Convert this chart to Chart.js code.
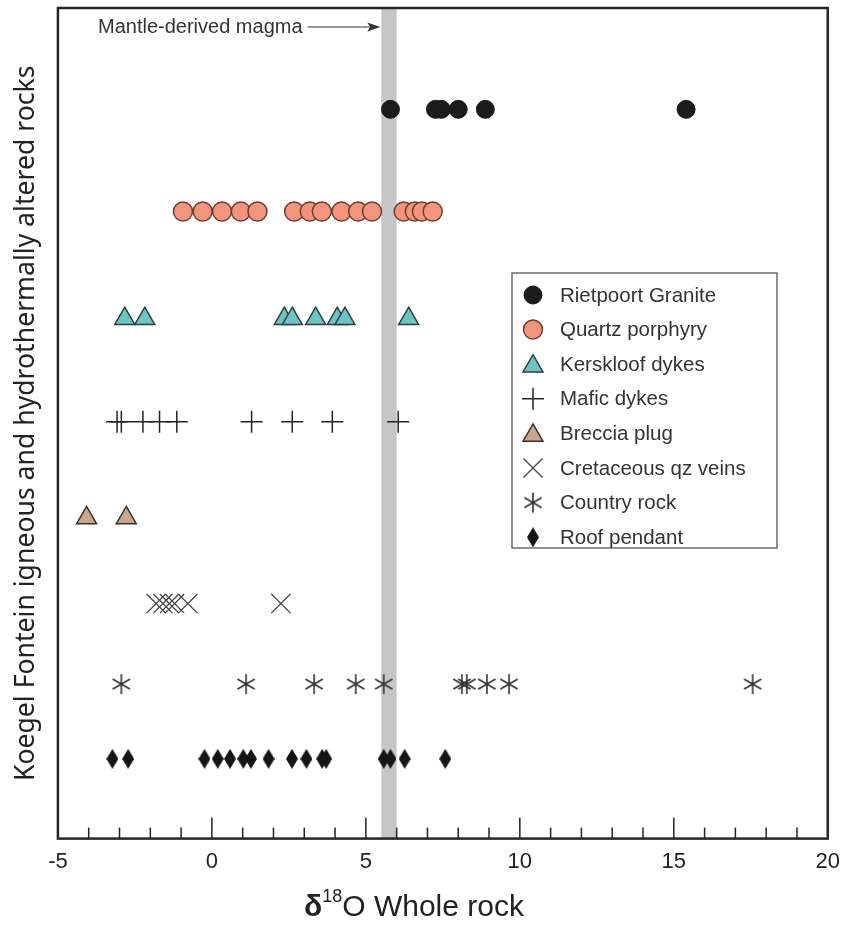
<!DOCTYPE html>
<html>
<head>
<meta charset="utf-8">
<script src="https://cdn.jsdelivr.net/npm/chart.js@4.4.1/dist/chart.umd.min.js"></script>
<style>
  body { margin: 0; background: #ffffff; }
  canvas { display: block; }
</style>
</head>
<body>
<canvas id="plot" width="850" height="929"></canvas>
<script>
// Series names (legend order)
const seriesNames = [
    "Rietpoort Granite",
    "Quartz porphyry",
    "Kerskloof dykes",
    "Mafic dykes",
    "Breccia plug",
    "Cretaceous qz veins",
    "Country rock",
    "Roof pendant"
];

// d18O whole rock values
const rietpoort = [5.8, 7.26, 7.45, 8.0, 8.88, 15.4];
const quartzPorphyry = [-0.94, -0.3, 0.33, 0.94, 1.48, 2.67, 3.18, 3.57, 4.21, 4.75, 5.2, 6.23, 6.59, 6.82, 7.17];
const kerskloof = [-2.83, -2.18, 2.35, 2.61, 3.37, 4.07, 4.32, 6.39];
const mafic = [-3.08, -2.94, -2.24, -1.7, -1.14, 1.29, 2.61, 3.91, 6.05];
const breccia = [-4.07, -2.78];
const cretaceous = [-1.81, -1.59, -1.38, -1.21, -0.78, 2.24];
const countryRock = [-2.94, 1.11, 3.32, 4.67, 5.58, 8.12, 8.28, 8.93, 9.65, 17.56];
const roofPendant = [-3.23, -2.72, -0.24, 0.19, 0.59, 1.02, 1.27, 1.84, 2.6, 3.07, 3.58, 3.71, 5.58, 5.8, 6.26, 7.58];

// vertical level of each rock group (arbitrary 0-100 scale)
const rowLevels = [87.8, 75.5, 62.6, 50.2, 38.6, 28.3, 18.6, 9.6];

// x axis
const xMin = -5;
const xMax = 20;
const xStep = 5;

// mantle-derived magma band
const mantleBand = [5.5, 6.0];

// Custom marker: 6-armed asterisk
function makeAsterisk() {
    const c = document.createElement("canvas");
    c.width = 22;
    c.height = 22;
    const g = c.getContext("2d");
    g.strokeStyle = "#333";
    g.lineWidth = 1.6;
    g.beginPath();
    for (let k = 0; k < 3; k++) {
        const a = Math.PI / 2 + k * Math.PI / 3;
        g.moveTo(11 + 10 * Math.cos(a), 11 - 10 * Math.sin(a));
        g.lineTo(11 - 10 * Math.cos(a), 11 + 10 * Math.sin(a));
    }
    g.stroke();
    return c;
}

// Custom marker: tall diamond
function makeDiamond() {
    const c = document.createElement("canvas");
    c.width = 12;
    c.height = 20;
    const g = c.getContext("2d");
    g.fillStyle = "#151515";
    g.beginPath();
    g.moveTo(6, 0);
    g.lineTo(12, 10);
    g.lineTo(6, 20);
    g.lineTo(0, 10);
    g.closePath();
    g.fill();
    return c;
}

const seriesValues = [rietpoort, quartzPorphyry, kerskloof, mafic, breccia, cretaceous, countryRock, roofPendant];

const seriesStyles = [
    { pointStyle: "circle", radius: 9, bg: "#1b1b1b", border: "#1b1b1b", width: 1 },
    { pointStyle: "circle", radius: 9.5, bg: "#f2957c", border: "#6b4032", width: 1.5 },
    { pointStyle: "triangle", radius: 11.5, bg: "#6dc4c2", border: "#2c3f40", width: 1.5 },
    { pointStyle: "cross", radius: 11, bg: "#222", border: "#222", width: 1.5 },
    { pointStyle: "triangle", radius: 11.5, bg: "#c9a68e", border: "#3a2f29", width: 1.5 },
    { pointStyle: "crossRot", radius: 13.5, bg: "#444", border: "#444", width: 1.3 },
    { pointStyle: makeAsterisk(), radius: 10, bg: "#333", border: "#333", width: 1.5 },
    { pointStyle: makeDiamond(), radius: 10, bg: "#151515", border: "#151515", width: 1 }
];

// Prepare datasets
let datasets = [];
for (let i = 0; i < seriesNames.length; i++) {
    const s = seriesStyles[i];
    datasets.push({
        label: seriesNames[i],
        data: seriesValues[i].map((v) => ({ x: v, y: rowLevels[i] })),
        pointStyle: s.pointStyle,
        pointRadius: s.radius,
        pointBackgroundColor: s.bg,
        pointBorderColor: s.border,
        pointBorderWidth: s.width,
        backgroundColor: s.bg,
        borderColor: s.border,
        showLine: false
    });
}

// Grey band + annotation drawn under the points
const bandPlugin = {
    id: "band",
    beforeDatasetsDraw(chart) {
        const ctx = chart.ctx;
        const area = chart.chartArea;
        const x = chart.scales.x;
        const x0 = x.getPixelForValue(mantleBand[0]);
        const x1 = x.getPixelForValue(mantleBand[1]);
        ctx.save();
        ctx.fillStyle = "#c6c6c6";
        ctx.fillRect(x0, area.top, x1 - x0, area.bottom - area.top);

        // annotation
        const ty = area.top + 19;
        ctx.fillStyle = "#333";
        ctx.font = "20px 'Liberation Sans', Arial, sans-serif";
        ctx.textBaseline = "middle";
        ctx.textAlign = "left";
        const label = "Mantle-derived magma";
        ctx.fillText(label, 98, ty);
        const start = 98 + ctx.measureText(label).width + 5;
        ctx.strokeStyle = "#333";
        ctx.lineWidth = 1.2;
        ctx.beginPath();
        ctx.moveTo(start, ty);
        ctx.lineTo(x0 - 8, ty);
        ctx.stroke();
        ctx.beginPath();
        ctx.moveTo(x0 - 1, ty);
        ctx.lineTo(x0 - 14, ty - 4.5);
        ctx.lineTo(x0 - 11, ty);
        ctx.lineTo(x0 - 14, ty + 4.5);
        ctx.closePath();
        ctx.fill();
        ctx.restore();
    }
};

// Frame, inward ticks, x title and legend box
const framePlugin = {
    id: "frame",
    afterDraw(chart) {
        const ctx = chart.ctx;
        const area = chart.chartArea;
        const x = chart.scales.x;
        ctx.save();

        // inward ticks on bottom axis
        ctx.strokeStyle = "#222";
        ctx.lineWidth = 1.5;
        for (let v = xMin + 1; v < xMax; v++) {
            const px = x.getPixelForValue(v);
            const len = v % 5 === 0 ? 21 : 11;
            ctx.beginPath();
            ctx.moveTo(px, area.bottom);
            ctx.lineTo(px, area.bottom - len);
            ctx.stroke();
        }

        // frame
        ctx.lineWidth = 2.5;
        ctx.strokeStyle = "#262626";
        ctx.strokeRect(area.left, area.top, area.right - area.left, area.bottom - area.top);

        // x title: delta 18 O Whole rock
        const ty = 906;
        ctx.fillStyle = "#222";
        ctx.textBaseline = "alphabetic";
        ctx.textAlign = "left";
        const big = "30px 'Liberation Sans', Arial, sans-serif";
        const bold = "bold 30px 'Liberation Sans', Arial, sans-serif";
        const small = "18px 'Liberation Sans', Arial, sans-serif";
        ctx.font = bold;
        const wD = ctx.measureText("δ").width;
        ctx.font = small;
        const wS = ctx.measureText("18").width;
        ctx.font = big;
        const wR = ctx.measureText("O Whole rock").width;
        let tx = 414 - (wD + wS + wR) / 2;
        ctx.font = bold;
        ctx.fillText("δ", tx, ty + 10);
        tx += wD;
        ctx.font = small;
        ctx.fillText("18", tx, ty - 4);
        tx += wS;
        ctx.font = big;
        ctx.fillText("O Whole rock", tx, ty + 10);

        // legend
        const bx = 512, by = 273, bw = 265, bh = 275;
        ctx.fillStyle = "#ffffff";
        ctx.fillRect(bx, by, bw, bh);
        ctx.strokeStyle = "#555";
        ctx.lineWidth = 1.3;
        ctx.strokeRect(bx, by, bw, bh);
        ctx.font = "20.5px 'Liberation Sans', Arial, sans-serif";
        ctx.textBaseline = "middle";
        chart.data.datasets.forEach((ds, i) => {
            const ly = by + 22 + i * 34.6;
            const dy = ds.pointStyle === "triangle" ? 2 : 0;
            ctx.fillStyle = ds.pointBackgroundColor;
            ctx.strokeStyle = ds.pointBorderColor;
            ctx.lineWidth = ds.pointBorderWidth;
            Chart.helpers.drawPoint(ctx, {
                pointStyle: ds.pointStyle,
                radius: ds.pointRadius,
                rotation: 0,
                borderWidth: ds.pointBorderWidth
            }, bx + 21, ly + dy);
            ctx.fillStyle = "#333";
            ctx.fillText(ds.label, bx + 48, ly + 1);
        });
        ctx.restore();
    }
};

const chart = new Chart(document.getElementById("plot"), {
    type: "scatter",
    data: { datasets: datasets },
    plugins: [bandPlugin, framePlugin],
    options: {
        responsive: false,
        animation: false,
        layout: {
            autoPadding: false,
            padding: { left: 8, right: 10, top: 8, bottom: 44 }
        },
        plugins: {
            legend: { display: false },
            tooltip: { enabled: false }
        },
        scales: {
            x: {
                type: "linear",
                min: xMin,
                max: xMax,
                grid: { display: false, drawTicks: false },
                border: { display: false },
                ticks: {
                    stepSize: xStep,
                    padding: 10,
                    color: "#222",
                    font: { family: "'Liberation Sans', Arial, sans-serif", size: 22 }
                }
            },
            y: {
                type: "linear",
                min: 0,
                max: 100,
                grid: { display: false, drawTicks: false },
                border: { display: false },
                ticks: { display: false },
                title: {
                    display: true,
                    text: "Koegel Fontein igneous and hydrothermally altered rocks",
                    color: "#222",
                    padding: { top: 2, bottom: 16 },
                    font: { family: "'Noto Sans', sans-serif", size: 26.6 }
                }
            }
        }
    }
});
</script>
</body>
</html>
